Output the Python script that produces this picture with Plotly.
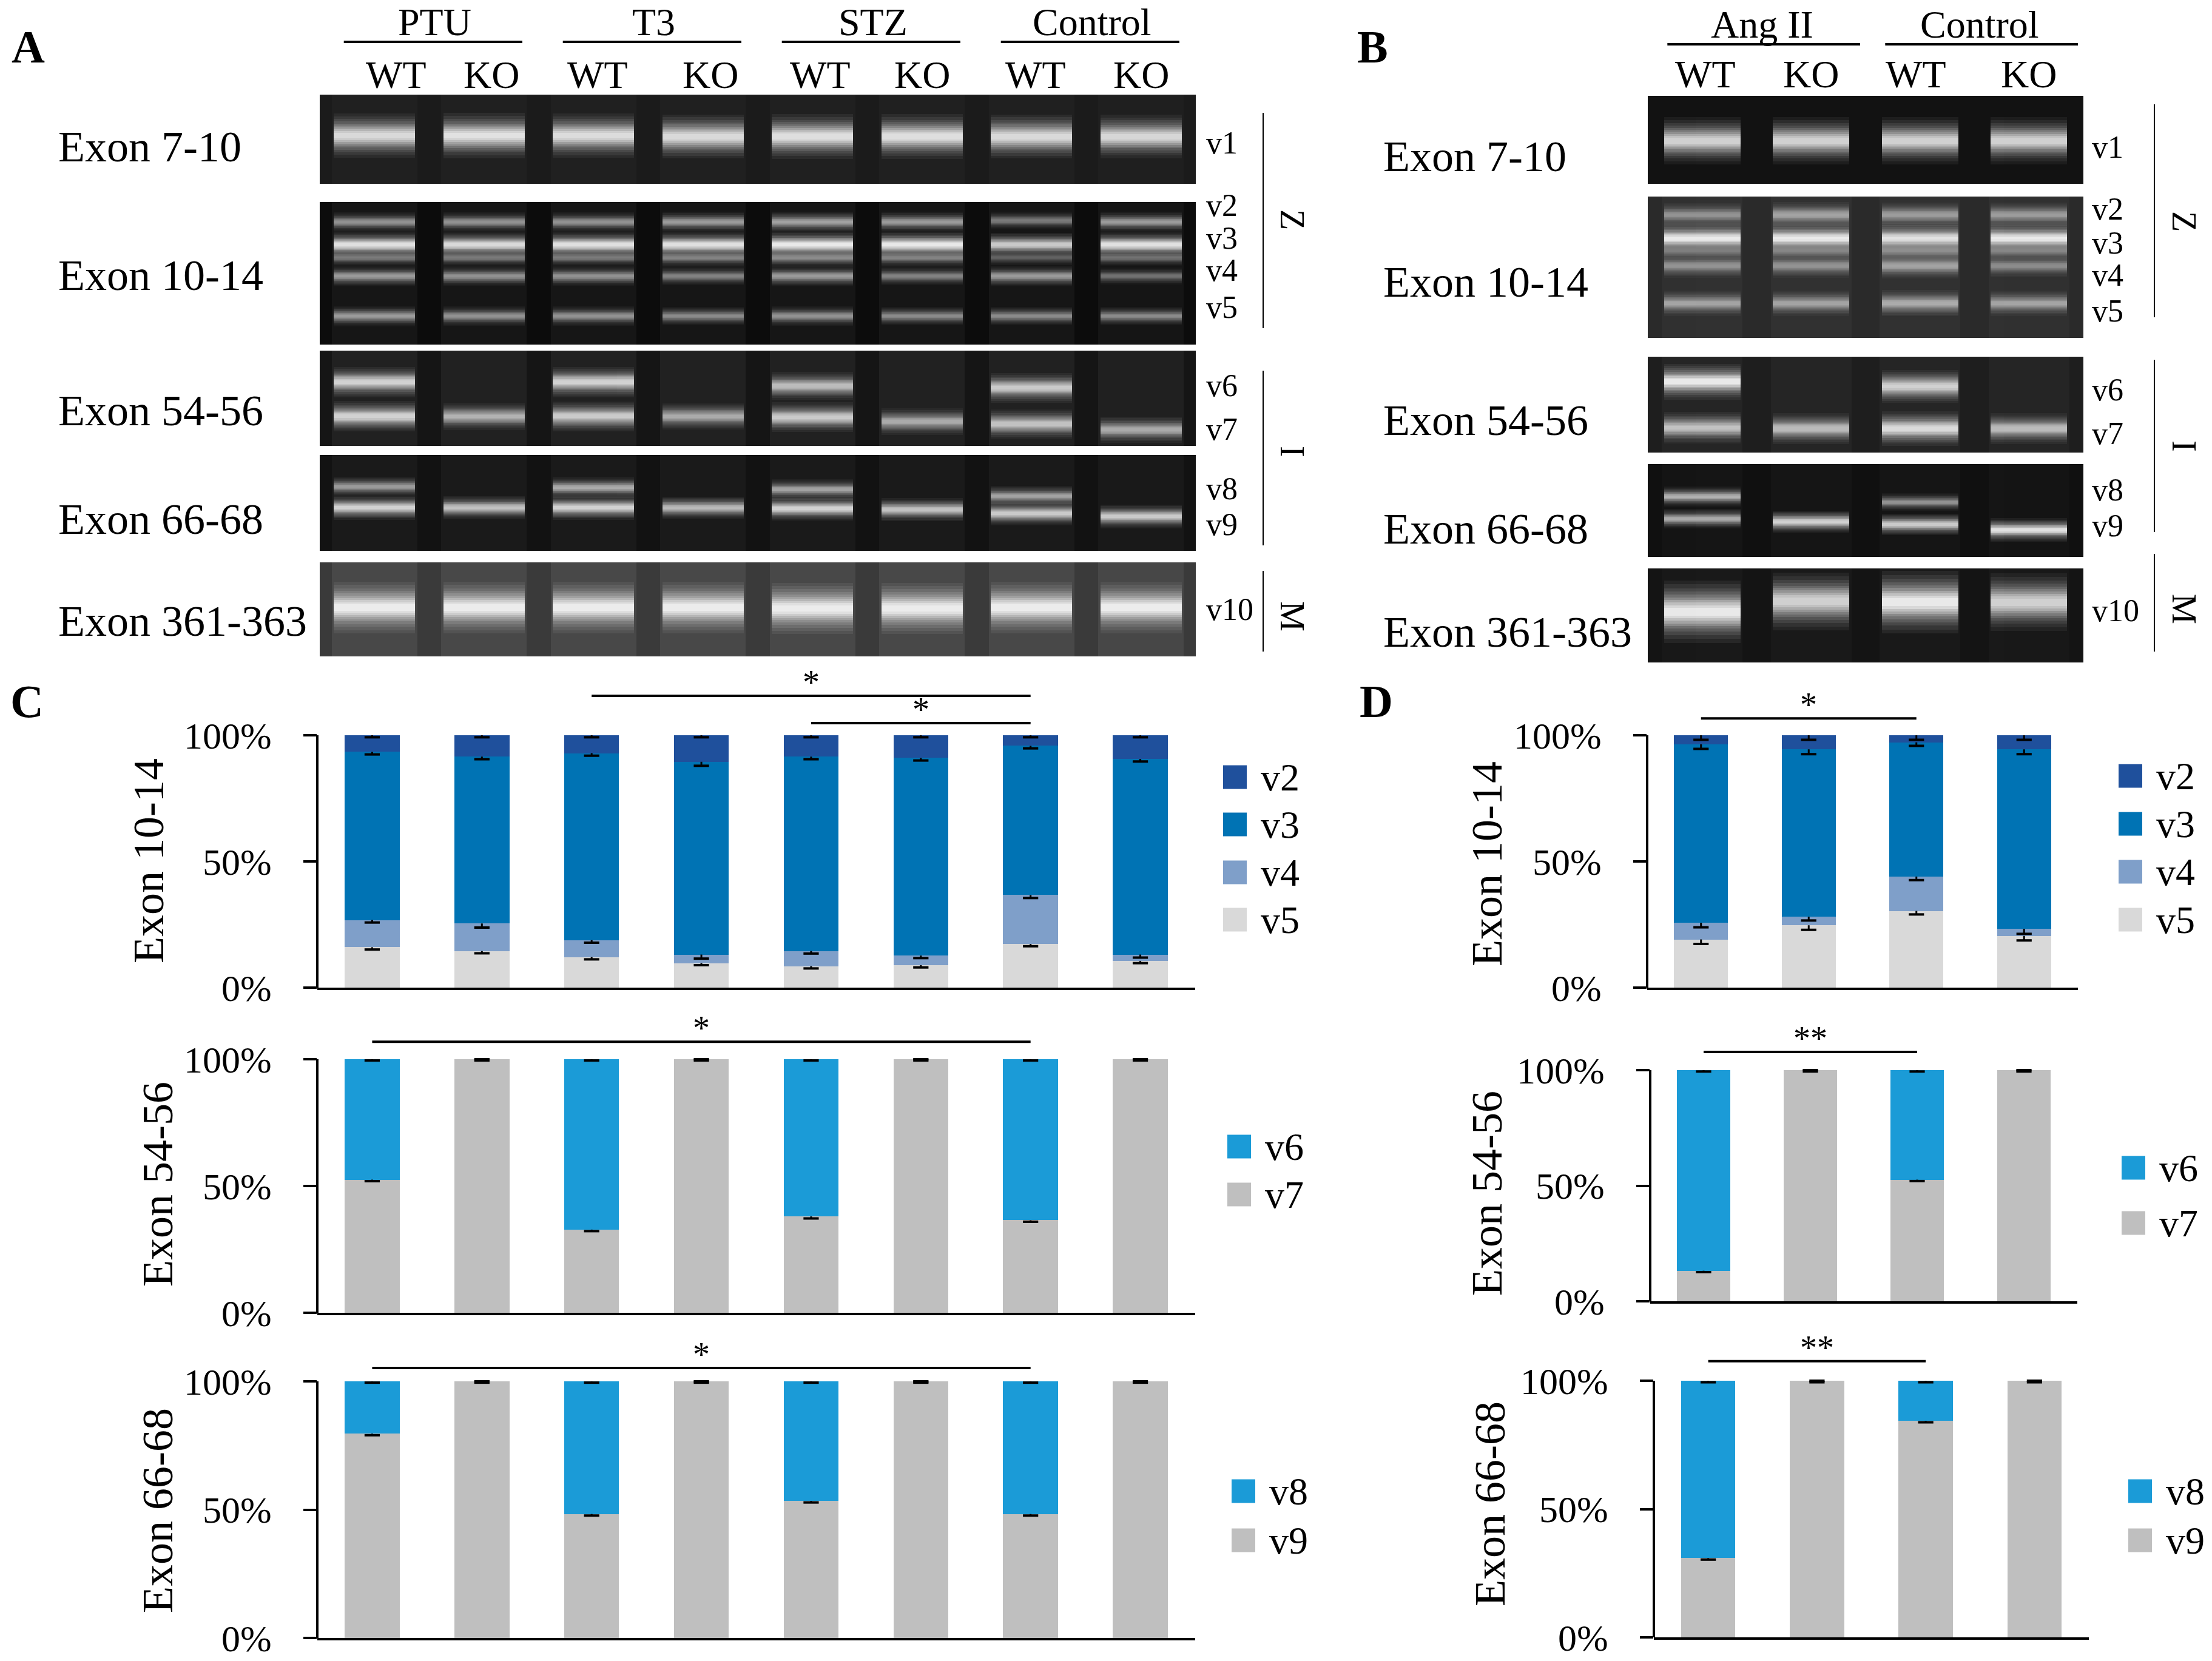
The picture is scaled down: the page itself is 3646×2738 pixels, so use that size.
import numpy as np
import plotly.graph_objects as go

W, H = 3646, 2738
FONT = "Liberation Serif"

# ---------------- gel panels (A, B) ----------------
groups_a = ["PTU", "T3", "STZ", "Control"]
groups_b = ["Ang II", "Control"]
genotypes = ["WT", "KO"]
exons = ["Exon 7-10", "Exon 10-14", "Exon 54-56", "Exon 66-68", "Exon 361-363"]
regions = ["Z", "I", "M"]

# band migration (fraction of gel height from top) and brightness (0-1) per lane
# panel A: PTU WT, PTU KO, T3 WT, T3 KO, STZ WT, STZ KO, Control WT, Control KO
a_v1_pos = [0.46, 0.46, 0.46, 0.47, 0.47, 0.47, 0.47, 0.47]
a_v1_int = [0.90, 0.95, 0.92, 0.90, 0.93, 0.93, 0.90, 0.88]
a_v2_pos = [0.14, 0.14, 0.14, 0.14, 0.14, 0.14, 0.13, 0.14]
a_v2_int = [0.45, 0.45, 0.45, 0.50, 0.55, 0.50, 0.30, 0.50]
a_v3_pos = [0.30, 0.30, 0.30, 0.30, 0.30, 0.30, 0.30, 0.30]
a_v3_int = [0.95, 0.90, 0.95, 0.95, 1.00, 1.00, 0.80, 0.95]
a_vx_pos = [0.39, 0.39, 0.39, 0.39, 0.39, 0.39, 0.39, 0.39]
a_vx_int = [0.30, 0.30, 0.30, 0.35, 0.40, 0.35, 0.15, 0.25]
a_v4_pos = [0.52, 0.52, 0.52, 0.52, 0.52, 0.52, 0.52, 0.52]
a_v4_int = [0.50, 0.45, 0.45, 0.35, 0.50, 0.35, 0.50, 0.25]
a_v5_pos = [0.80, 0.80, 0.80, 0.80, 0.80, 0.80, 0.80, 0.80]
a_v5_int = [0.50, 0.45, 0.45, 0.40, 0.45, 0.40, 0.40, 0.40]
a_v6_pos = [0.33, 0.33, 0.33, 0.33, 0.37, 0.37, 0.39, 0.39]
a_v6_int = [0.85, 0.00, 0.85, 0.00, 0.70, 0.00, 0.80, 0.00]
a_v7_pos = [0.69, 0.69, 0.69, 0.69, 0.70, 0.745, 0.77, 0.83]
a_v7_int = [0.85, 0.65, 0.80, 0.60, 0.80, 0.60, 0.75, 0.60]
a_v8_pos = [0.33, 0.34, 0.34, 0.34, 0.36, 0.36, 0.43, 0.43]
a_v8_int = [0.50, 0.00, 0.60, 0.00, 0.55, 0.00, 0.55, 0.00]
a_v9_pos = [0.55, 0.55, 0.55, 0.55, 0.56, 0.57, 0.61, 0.64]
a_v9_int = [0.85, 0.75, 0.85, 0.70, 0.85, 0.75, 0.80, 0.80]
a_v10_pos = [0.48, 0.48, 0.48, 0.48, 0.49, 0.49, 0.48, 0.48]
a_v10_int = [1.00, 1.00, 1.00, 1.00, 1.00, 1.00, 1.00, 1.00]

# panel B: Ang II WT, Ang II KO, Control WT, Control KO
b_v1_pos = [0.51, 0.51, 0.51, 0.51]
b_v1_int = [0.85, 0.85, 0.85, 0.85]
b_v2_pos = [0.13, 0.13, 0.13, 0.13]
b_v2_int = [0.45, 0.55, 0.50, 0.50]
b_v3_pos = [0.30, 0.30, 0.30, 0.30]
b_v3_int = [1.00, 1.00, 0.95, 1.00]
b_vx_pos = [0.38, 0.38, 0.38, 0.38]
b_vx_int = [0.30, 0.35, 0.40, 0.35]
b_v4_pos = [0.49, 0.49, 0.49, 0.49]
b_v4_int = [0.45, 0.45, 0.55, 0.40]
b_v5_pos = [0.755, 0.755, 0.755, 0.755]
b_v5_int = [0.55, 0.55, 0.60, 0.55]
b_v6_pos = [0.26, 0.31, 0.31, 0.31]
b_v6_int = [1.00, 0.00, 0.85, 0.00]
b_v7_pos = [0.74, 0.75, 0.75, 0.75]
b_v7_int = [0.75, 0.70, 0.90, 0.70]
b_v8_pos = [0.35, 0.35, 0.41, 0.41]
b_v8_int = [0.65, 0.00, 0.45, 0.00]
b_v9_pos = [0.59, 0.62, 0.65, 0.71]
b_v9_int = [0.60, 0.85, 0.80, 0.95]
b_v10_pos = [0.46, 0.35, 0.36, 0.36]
b_v10_int = [1.00, 0.85, 1.00, 0.85]

# ---------------- bar panels (C, D): % of total per variant ----------------
c_v2 = [6.6, 8.5, 7.1, 10.5, 8.5, 9.0, 4.2, 9.4]
c_v3 = [66.6, 66.1, 74.1, 76.4, 77.0, 78.3, 59.1, 77.5]
c_v4 = [10.8, 10.9, 6.7, 3.4, 6.0, 3.8, 19.4, 2.5]
c_v5 = [16.0, 14.5, 12.1, 9.7, 8.5, 8.9, 17.3, 10.6]
c_v2_err = [0.8, 0.8, 0.8, 0.8, 0.8, 0.8, 0.8, 0.8]
c_v3_err = [1.0, 1.0, 1.0, 1.6, 1.0, 1.0, 1.0, 1.0]
c_v4_err = [1.0, 1.6, 1.0, 1.6, 1.0, 1.0, 1.2, 1.2]
c_v5_err = [0.9, 0.9, 0.9, 0.8, 0.9, 0.9, 0.9, 0.9]
c_v6 = [47.5, 0.0, 67.2, 0.0, 62.0, 0.0, 63.5, 0.0]
c_v7 = [52.5, 100.0, 32.8, 100.0, 38.0, 100.0, 36.5, 100.0]
c_v6_err = [0.5, 0.5, 0.5, 0.5, 0.5, 0.5, 0.5, 0.5]
c_v7_err = [0.6, 0.0, 0.6, 0.0, 0.8, 0.0, 0.6, 0.0]
c_v8 = [20.4, 0.0, 51.7, 0.0, 46.6, 0.0, 51.7, 0.0]
c_v9 = [79.6, 100.0, 48.3, 100.0, 53.4, 100.0, 48.3, 100.0]
c_v8_err = [0.5, 0.5, 0.5, 0.5, 0.5, 0.5, 0.5, 0.5]
c_v9_err = [0.6, 0.0, 0.6, 0.0, 0.6, 0.0, 0.6, 0.0]

d_v2 = [3.6, 5.6, 2.8, 5.6]
d_v3 = [70.7, 66.3, 53.2, 71.1]
d_v4 = [6.6, 3.4, 13.6, 2.8]
d_v5 = [19.1, 24.7, 30.4, 20.5]
d_v2_err = [1.8, 1.8, 1.8, 1.8]
d_v3_err = [1.8, 1.9, 1.4, 1.9]
d_v4_err = [1.8, 1.5, 1.4, 2.0]
d_v5_err = [1.8, 1.8, 1.4, 1.8]
d_v6 = [86.8, 0.0, 47.4, 0.0]
d_v7 = [13.2, 100.0, 52.6, 100.0]
d_v6_err = [0.6, 0.6, 0.6, 0.6]
d_v7_err = [0.6, 0.0, 0.6, 0.0]
d_v8 = [69.1, 0.0, 15.6, 0.0]
d_v9 = [30.9, 100.0, 84.4, 100.0]
d_v8_err = [0.6, 0.6, 0.6, 0.6]
d_v9_err = [0.6, 0.0, 0.6, 0.0]

# significance brackets: (from bar, to bar, height %, label)
c_sig = [[(2, 6, 115.6, "*"), (4, 6, 104.8, "*")], [(0, 6, 106.9, "*")], [(0, 6, 105.2, "*")]]
d_sig = [[(0, 2, 106.7, "*")], [(0, 2, 107.9, "**")], [(0, 2, 107.6, "**")]]

COL = {"v2": "#1f509c", "v3": "#0073b4", "v4": "#7f9fc9", "v5": "#d9d9d9",
       "v6": "#1b9bd7", "v7": "#bfbfbf", "v8": "#1b9bd7", "v9": "#bfbfbf"}

fig = go.Figure()
shapes, annos = [], []
n_axes = [0]


def px(x, y):
    return x / W, 1 - y / H


def label(s, x, y, size, xanchor="center", yanchor="middle", angle=0, **kw):
    fx, fy = px(x, y)
    annos.append(dict(text=s, x=fx, y=fy, xref="paper", yref="paper", showarrow=False,
                      xanchor=xanchor, yanchor=yanchor, textangle=angle,
                      font=dict(family=FONT, size=size, color="black"), **kw))


def add_axes(xdom, ydom, xaxis, yaxis):
    n_axes[0] += 1
    s = "" if n_axes[0] == 1 else str(n_axes[0])
    fig.update_layout({"xaxis" + s: dict(domain=xdom, anchor="y" + s, **xaxis),
                       "yaxis" + s: dict(domain=ydom, anchor="x" + s, **yaxis)})
    return "x" + s, "y" + s


blank = dict(showgrid=False, zeroline=False, showticklabels=False, ticks="", showline=False, fixedrange=True)

# soft glow of a band: (relative thickness, opacity) layers from outside in
GLOW = [(2.4, 0.06), (2.1, 0.07), (1.8, 0.09), (1.55, 0.11), (1.3, 0.14),
        (1.1, 0.18), (0.9, 0.24), (0.7, 0.32), (0.5, 0.42), (0.3, 0.5)]


def gel(x0, x1, top, bot, n, bands, bg, tint, band_h, lane_w):
    xa, ya = add_axes([x0 / W, x1 / W], [1 - bot / H, 1 - top / H],
                      dict(range=[-0.5, n - 0.5], **blank), dict(range=[1, 0], **blank))
    shapes.append(dict(type="rect", xref=xa + " domain", yref=ya + " domain", x0=0, x1=1, y0=0, y1=1,
                       fillcolor=bg, line_width=0, layer="below"))
    lanes = np.arange(n)
    if tint > 0:
        fig.add_trace(go.Bar(x=lanes, y=np.ones(n), base=np.zeros(n), width=lane_w + 0.04, opacity=tint,
                             marker=dict(color="white", line_width=0), xaxis=xa, yaxis=ya))
    for pos, inten in bands:
        pos, inten = np.asarray(pos), np.asarray(inten)
        keep = inten > 0
        x, p, i = lanes[keep], pos[keep], inten[keep]
        h = band_h * (0.6 + 0.6 * i)
        cols = ["rgb({0},{0},{0})".format(int(80 + 170 * v)) for v in i]
        for spread, alpha in GLOW:
            hh = h * spread
            fig.add_trace(go.Bar(x=x, y=hh, base=p - hh / 2, width=lane_w, opacity=alpha,
                                 marker=dict(color=cols, line_width=0), xaxis=xa, yaxis=ya))
    return xa, ya


gels_a = [[(a_v1_pos, a_v1_int)],
          [(a_v2_pos, a_v2_int), (a_v3_pos, a_v3_int), (a_vx_pos, a_vx_int), (a_v4_pos, a_v4_int), (a_v5_pos, a_v5_int)],
          [(a_v6_pos, a_v6_int), (a_v7_pos, a_v7_int)],
          [(a_v8_pos, a_v8_int), (a_v9_pos, a_v9_int)],
          [(a_v10_pos, a_v10_int)]]
gels_b = [[(b_v1_pos, b_v1_int)],
          [(b_v2_pos, b_v2_int), (b_v3_pos, b_v3_int), (b_vx_pos, b_vx_int), (b_v4_pos, b_v4_int), (b_v5_pos, b_v5_int)],
          [(b_v6_pos, b_v6_int), (b_v7_pos, b_v7_int)],
          [(b_v8_pos, b_v8_int), (b_v9_pos, b_v9_int)],
          [(b_v10_pos, b_v10_int)]]

rows_a = [(156, 303), (333, 568), (578, 735), (750, 908), (927, 1082)]
rows_b = [(158, 303), (324, 557), (588, 746), (765, 918), (937, 1092)]
bg_a = ["#1b1b1b", "#0c0c0c", "#151515", "#121212", "#3a3a3a"]
bg_b = ["#121212", "#2a2a2a", "#1e1e1e", "#101010", "#141414"]
tint_a = [0.02, 0.04, 0.05, 0.03, 0.07]
tint_b = [0.0, 0.03, 0.03, 0.02, 0.02]
bh_a = [0.18, 0.065, 0.12, 0.095, 0.19]
bh_b = [0.2, 0.08, 0.13, 0.09, 0.23]

first_a = first_b = None
for k in range(5):
    ax = gel(527, 1971, *rows_a[k], 8, gels_a[k], bg_a[k], tint_a[k], bh_a[k], 0.74)
    bx = gel(2716, 3434, *rows_b[k], 4, gels_b[k], bg_b[k], tint_b[k], bh_b[k], 0.70)
    if k == 0:
        first_a, first_b = ax, bx

# gel labels
for name, y in zip(exons, [242, 454, 677, 856, 1024]):
    label(name, 94, y, 72, xanchor="left")
for name, y in zip(exons, [258, 465, 693, 872, 1042]):
    label(name, 2278, y, 72, xanchor="left")

vnames = ["v1", "v2", "v3", "v4", "v5", "v6", "v7", "v8", "v9", "v10"]
for name, y in zip(vnames, [236, 338, 392, 446, 506, 635, 708, 805, 864, 1004]):
    label(name, 1986, y, 52, xanchor="left")
for name, y in zip(vnames, [242, 345, 400, 453, 512, 642, 714, 808, 866, 1007]):
    label(name, 3446, y, 52, xanchor="left")

for reg, (y0, y1), ym in zip(regions, [(186, 541), (611, 899), (941, 1074)], [362, 744, 1016]):
    shapes.append(dict(type="line", xref="paper", yref="paper", x0=2082 / W, x1=2082 / W,
                       y0=1 - y0 / H, y1=1 - y1 / H, line=dict(color="black", width=2)))
    label(reg, 2130, ym, 56, angle=90)
for reg, (y0, y1), ym in zip(regions, [(172, 523), (593, 877), (913, 1074)], [365, 735, 1004]):
    shapes.append(dict(type="line", xref="paper", yref="paper", x0=3551 / W, x1=3551 / W,
                       y0=1 - y0 / H, y1=1 - y1 / H, line=dict(color="black", width=2)))
    label(reg, 3600, ym, 56, angle=90)


# group / genotype headers over the gels
def headers(axes, groups, y_grp, y_line, y_gt, spans, gt_shift):
    xa, _ = axes
    for g, grp in enumerate(groups):
        annos.append(dict(text=grp, x=2 * g + 0.55, y=1 - y_grp / H, xref=xa, yref="paper", showarrow=False,
                          yanchor="middle", font=dict(family=FONT, size=64, color="black")))
        shapes.append(dict(type="line", xref=xa, yref="paper", x0=2 * g + spans[0], x1=2 * g + spans[1],
                           y0=1 - y_line / H, y1=1 - y_line / H, line=dict(color="black", width=4)))
        for j, gt in enumerate(genotypes):
            annos.append(dict(text=gt, x=2 * g + j + gt_shift[2 * g + j], y=1 - y_gt / H, xref=xa, yref="paper",
                              showarrow=False, yanchor="middle", font=dict(family=FONT, size=64, color="black")))


headers(first_a, groups_a, 37, 69, 124, (-0.28, 1.35), [0.2, 0.07, 0.04, 0.07, 0.07, 0.0, 0.04, 0.0])
headers(first_b, groups_b, 40, 73, 123, (-0.32, 1.45), [0.03, 0.0, -0.04, 0.0])


# ---------------- stacked bar charts ----------------
def stacked(x0, x1, y0pct, y100pct, rtop, stack, names, errs, title, title_xy, sigs, leg_x, leg_ys):
    n = len(stack[0])
    per = (y0pct - y100pct) / 100.0
    ytop = y0pct - rtop * per
    xa, ya = add_axes([x0 / W, x1 / W], [1 - y0pct / H, 1 - ytop / H],
                      dict(range=[-0.5, n - 0.5], showgrid=False, zeroline=False, showticklabels=False,
                           ticks="", showline=True, linecolor="black", linewidth=4, fixedrange=True),
                      dict(range=[0, rtop], showgrid=False, zeroline=False, showline=False,
                           tickvals=[0, 50, 100], ticktext=["0%", "50%", "100%"], ticks="outside",
                           ticklen=22, tickwidth=4, tickcolor="black", ticklabelstandoff=40,
                           tickfont=dict(family=FONT, size=62, color="black"), fixedrange=True))
    cats = np.arange(n)
    for vals, nm in zip(stack, names):
        fig.add_trace(go.Bar(x=cats, y=vals, width=0.5, marker=dict(color=COL[nm], line_width=0),
                             xaxis=xa, yaxis=ya))
    tops = np.cumsum(np.asarray(stack), axis=0)
    for top, err in zip(tops, errs):
        err = np.asarray(err)
        fig.add_trace(go.Scatter(x=cats, y=top - err, mode="markers", xaxis=xa, yaxis=ya, cliponaxis=False,
                                 marker=dict(symbol="line-ew", size=18, line=dict(width=4, color="black")),
                                 error_y=dict(type="data", array=err, arrayminus=np.zeros(n), width=0,
                                              thickness=3, color="black")))
    shapes.append(dict(type="line", xref=xa + " domain", yref=ya, x0=0, x1=0, y0=0, y1=100,
                       line=dict(color="black", width=4)))
    for a, b, y, s in sigs:
        shapes.append(dict(type="line", xref=xa, yref=ya, x0=a, x1=b, y0=y, y1=y,
                           line=dict(color="black", width=4)))
        annos.append(dict(text=s, x=(a + b) / 2, y=y, xref=xa, yref=ya, showarrow=False, yanchor="middle",
                          yshift=22, font=dict(family=FONT, size=56, color="black")))
    label(title, title_xy[0], title_xy[1], 72, angle=-90)
    # legend, top segment first
    for nm, ly in zip(names[::-1], leg_ys):
        fx, fy = px(leg_x, ly)
        shapes.append(dict(type="rect", xref="paper", yref="paper", x0=fx, x1=fx + 39 / W,
                           y0=fy - 19.5 / H, y1=fy + 19.5 / H, fillcolor=COL[nm], line_width=0))
        label(nm, leg_x + 60, ly, 64, xanchor="left")


stacked(523, 1970, 1628, 1212, 120, [c_v5, c_v4, c_v3, c_v2], ["v5", "v4", "v3", "v2"],
        [c_v5_err, c_v4_err, c_v3_err, c_v2_err], exons[1], (245, 1419), c_sig[0], 2016, [1281, 1359, 1438, 1516])
stacked(523, 1970, 2164, 1746, 110, [c_v7, c_v6], ["v7", "v6"], [c_v7_err, c_v6_err],
        exons[2], (260, 1952), c_sig[1], 2023, [1890, 1969])
stacked(523, 1970, 2700, 2277, 110, [c_v9, c_v8], ["v9", "v8"], [c_v9_err, c_v8_err],
        exons[3], (260, 2490), c_sig[2], 2030, [2458, 2539])

stacked(2715, 3425, 1628, 1212, 120, [d_v5, d_v4, d_v3, d_v2], ["v5", "v4", "v3", "v2"],
        [d_v5_err, d_v4_err, d_v3_err, d_v2_err], exons[1], (2451, 1424), d_sig[0], 3492, [1279, 1358, 1437, 1516])
stacked(2720, 3424, 2145, 1764, 110, [d_v7, d_v6], ["v7", "v6"], [d_v7_err, d_v6_err],
        exons[2], (2451, 1967), d_sig[1], 3497, [1925, 2016])
stacked(2726, 3443, 2699, 2276, 110, [d_v9, d_v8], ["v9", "v8"], [d_v9_err, d_v8_err],
        exons[3], (2456, 2479), d_sig[2], 3508, [2458, 2539])

# panel letters
for s, (x, y) in zip("ABCD", [(46, 77), (2262, 77), (44, 1156), (2268, 1156)]):
    label("<b>" + s + "</b>", x, y, 76)

fig.update_layout(width=W, height=H, margin=dict(l=0, r=0, t=0, b=0), template="none",
                  paper_bgcolor="white", plot_bgcolor="white", barmode="stack", showlegend=False,
                  font=dict(family=FONT, color="black"), shapes=shapes, annotations=annos)

fig.write_html("out.html", config={"displayModeBar": False},
               post_script="document.body.style.margin = '0px';")
